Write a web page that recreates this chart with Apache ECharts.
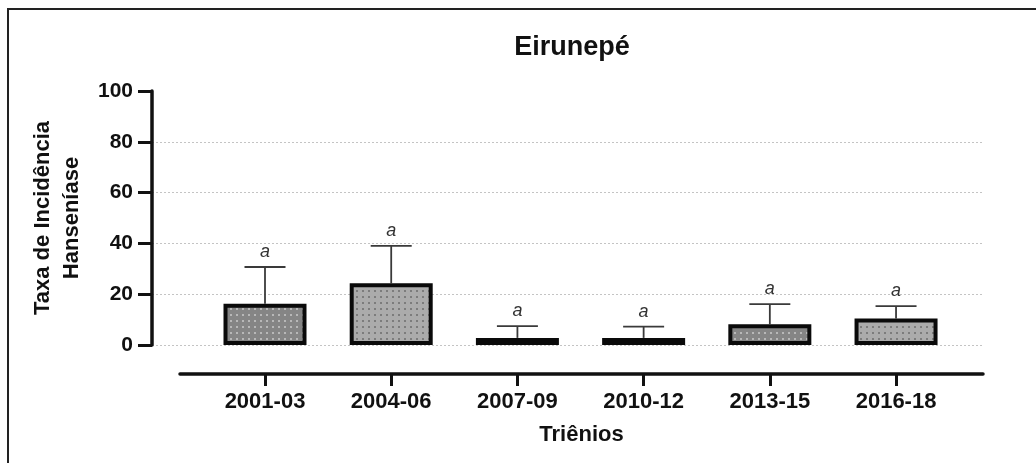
<!DOCTYPE html>
<html>
<head>
<meta charset="utf-8">
<script src="https://cdn.jsdelivr.net/npm/echarts@6/dist/echarts.min.js"></script>
<style>
  html, body { margin: 0; padding: 0; background: #fff; }
  #wrap { position: relative; width: 1036px; height: 463px; overflow: hidden; }
  #chart { position: absolute; left: 0; top: 0; width: 1036px; height: 463px; }
  #frame { position: absolute; left: 7px; top: 8px; right: -4px; bottom: -4px;
           border-top: 2px solid #222; border-left: 2px solid #222; pointer-events: none; }
</style>
</head>
<body>
<div id="wrap">
  <div id="chart"></div>
  <div id="frame"></div>
</div>
<script>
// Incidence rate of leprosy per three-year period, Eirunepé
const categories = ['2001-03', '2004-06', '2007-09', '2010-12', '2013-15', '2016-18'];
const means      = [16.2, 24.3, 2.8, 2.8, 8.2, 10.4];
const upperError = [30.7, 39.0, 7.4, 7.2, 16.1, 15.3];   // mean + SD
const groupLetters = ['a', 'a', 'a', 'a', 'a', 'a'];
const fillKinds  = ['dark', 'light', 'dark', 'dark', 'dark', 'light'];
const yTicks     = [0, 20, 40, 60, 80, 100];

const FONT = '"Liberation Sans", Arial, Helvetica, sans-serif';

// stippled fill tiles
function dotTile(bg, dot) {
  const c = document.createElement('canvas');
  c.width = 6; c.height = 6;
  const g = c.getContext('2d');
  g.fillStyle = bg; g.fillRect(0, 0, 6, 6);
  g.fillStyle = dot; g.fillRect(2, 2, 2, 2);
  return c;
}
const tiles = {
  dark:  dotTile('#858585', '#b8b8b8'),
  light: dotTile('#ababab', '#7c7c7c')
};

const BAR_W = 83;      // outer bar width in px
const BORDER = 4;      // bar outline, drawn inside the bar

const chart = echarts.init(document.getElementById('chart'), null, { renderer: 'canvas' });

const barData = means.map((v, i) => [i, v]);
const errData = means.map((v, i) => [i, v, upperError[i]]);

chart.setOption({
  animation: false,
  backgroundColor: '#fff',
  title: {
    text: 'Eirunepé',
    left: 567, top: 29,
    textAlign: 'center',
    textStyle: { fontFamily: FONT, fontSize: 27, fontWeight: 'bold', color: '#111' }
  },
  grid: [
    { left: 152, right: 53, top: 91, bottom: 118 },
    { left: 180, right: 53, top: 91, bottom: 118 }
  ],
  xAxis: [
    { gridIndex: 0, type: 'value', min: 0, max: 1, show: false },
    {
      gridIndex: 1, type: 'value', min: -0.6735, max: 5.689,
      position: 'bottom', offset: 29,
      name: 'Triênios', nameLocation: 'middle', nameGap: 50,
      nameTextStyle: { fontFamily: FONT, fontSize: 22, fontWeight: 'bold', color: '#111' },
      axisLine: { show: true, onZero: false, lineStyle: { color: '#111', width: 3.5 } },
      axisTick: { show: true, length: 12, lineStyle: { color: '#111', width: 3 },
                  customValues: categories.map((c, i) => i) },
      axisLabel: { show: true, margin: 17, fontFamily: FONT, fontSize: 22, fontWeight: 'bold', color: '#111',
                   customValues: categories.map((c, i) => i),
                   formatter: v => categories[Math.round(v)] },
      splitLine: { show: false }
    }
  ],
  yAxis: [
    {
      gridIndex: 0, type: 'value', min: yTicks[0], max: yTicks[yTicks.length - 1], interval: 20,
      name: 'Taxa de Incidência\nHanseníase', nameLocation: 'middle', nameRotate: 90, nameGap: 66,
      nameTextStyle: { fontFamily: FONT, fontSize: 22, fontWeight: 'bold', color: '#111', lineHeight: 29, align: 'center' },
      axisLine: { show: true, onZero: false, lineStyle: { color: '#111', width: 3.5 } },
      axisTick: { show: true, length: 14, lineStyle: { color: '#111', width: 3 } },
      axisLabel: { margin: 19, fontFamily: FONT, fontSize: 21, fontWeight: 'bold', color: '#111' },
      splitLine: { show: true, showMaxLine: false, lineStyle: { color: '#c4c4c4', width: 1, type: [2, 2] } }
    },
    { gridIndex: 1, type: 'value', min: 0, max: 100, show: false }
  ],
  series: [
    {
      // bars with the outline kept inside the bar's extent
      type: 'custom',
      xAxisIndex: 1, yAxisIndex: 1,
      data: barData,
      z: 3,
      renderItem: function (params, api) {
        const i = api.value(0);
        const top = api.coord([i, api.value(1)]);
        const bottom = api.coord([i, 0]);
        const h = bottom[1] - top[1];
        const half = BORDER / 2;
        return {
          type: 'rect',
          shape: {
            x: top[0] - BAR_W / 2 + half,
            y: top[1] + half,
            width: BAR_W - BORDER,
            height: Math.max(h - BORDER, 0)
          },
          style: {
            fill: { image: tiles[fillKinds[params.dataIndex]], repeat: 'repeat' },
            stroke: '#0a0a0a',
            lineWidth: BORDER
          }
        };
      }
    },
    {
      // SD whiskers and group letters
      type: 'custom',
      xAxisIndex: 1, yAxisIndex: 1,
      data: errData,
      z: 2,
      renderItem: function (params, api) {
        const i = api.value(0);
        const base = api.coord([i, api.value(1)]);
        const top = api.coord([i, api.value(2)]);
        const half = 20.5;
        const st = { stroke: '#3a3a3a', lineWidth: 1.8 };
        return {
          type: 'group',
          children: [
            { type: 'line', shape: { x1: base[0], y1: base[1], x2: top[0], y2: top[1] }, style: st },
            { type: 'line', shape: { x1: top[0] - half, y1: top[1], x2: top[0] + half, y2: top[1] }, style: st },
            { type: 'text', style: {
                text: groupLetters[params.dataIndex], x: top[0], y: top[1] - 15,
                align: 'center', verticalAlign: 'middle',
                font: 'italic 18px ' + FONT, fill: '#333' } }
          ]
        };
      }
    }
  ]
});
</script>
</body>
</html>
